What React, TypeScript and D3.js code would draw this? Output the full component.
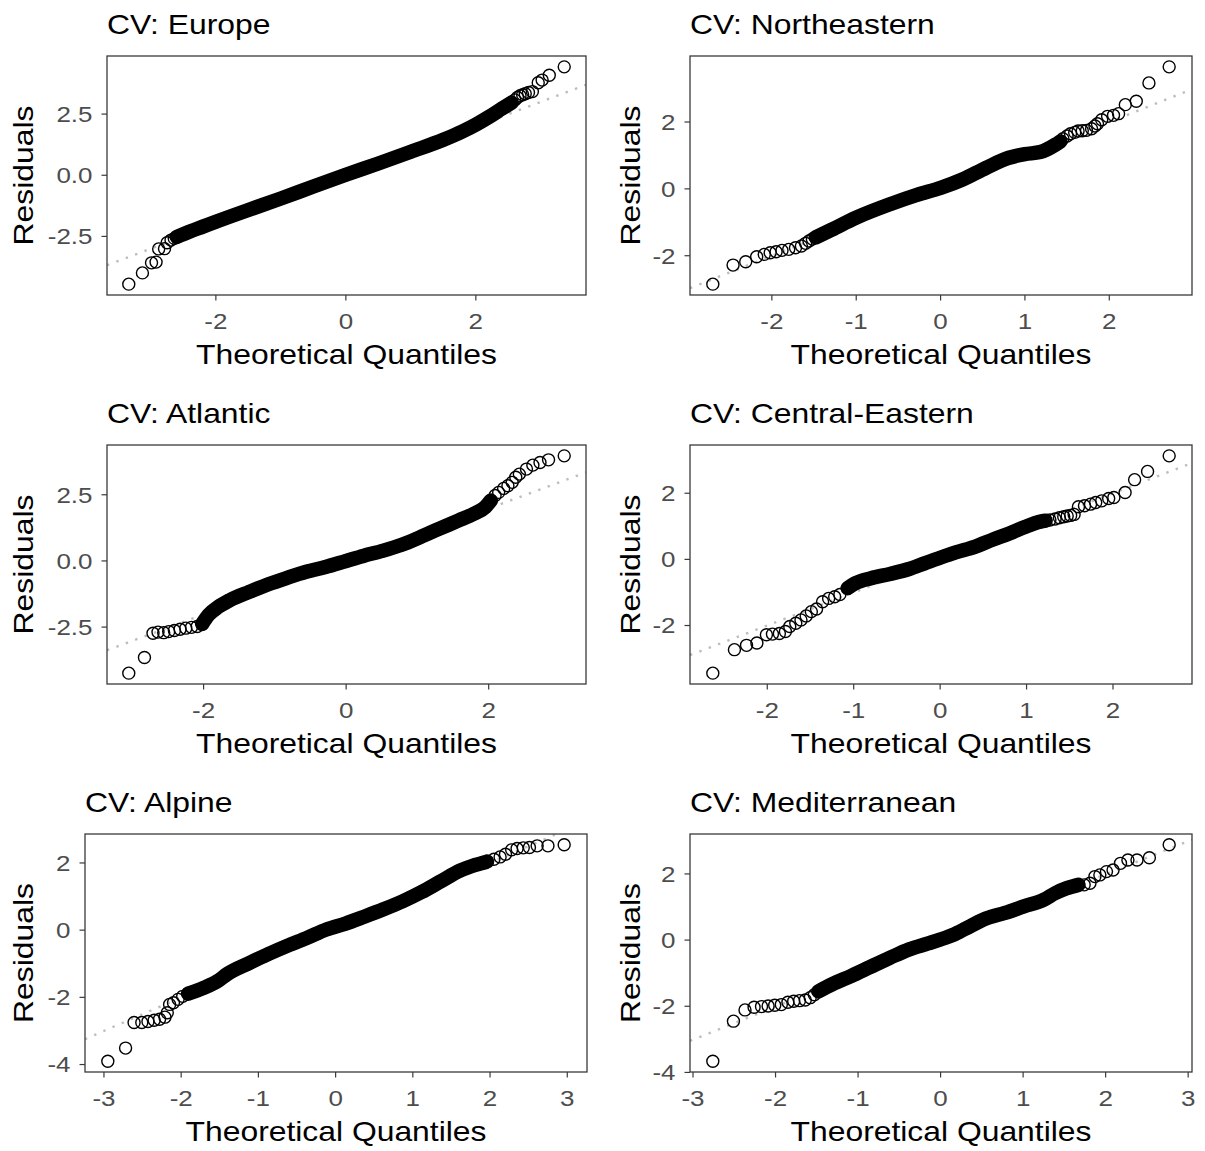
import React from "react";
import * as d3 from "d3";

type Pt = [number, number];

// ---------- DATA: [theoretical quantile, residual] ----------
const panelTitles = [
  "CV: Europe",
  "CV: Northeastern",
  "CV: Atlantic",
  "CV: Central-Eastern",
  "CV: Alpine",
  "CV: Mediterranean",
];

// Europe
const europeLow: Pt[] = [[-3.34, -4.45], [-3.13, -3.99], [-2.99, -3.58], [-2.92, -3.55], [-2.88, -3.01], [-2.79, -3.0], [-2.75, -2.76], [-2.69, -2.65], [-2.64, -2.58]];
const europeBand: Pt[] = [[-2.6, -2.52], [-2.4, -2.3], [-2.2, -2.1], [-2.0, -1.9], [-1.5, -1.42], [-1.0, -0.95], [-0.5, -0.46], [0, 0.02], [0.5, 0.48], [1.0, 0.96], [1.5, 1.45], [1.8, 1.8], [2.0, 2.07], [2.2, 2.38], [2.4, 2.72], [2.55, 2.97]];
const europeHigh: Pt[] = [[2.6, 3.08], [2.64, 3.18], [2.68, 3.25], [2.72, 3.29], [2.76, 3.33], [2.81, 3.38], [2.87, 3.42], [2.96, 3.78], [3.02, 3.89], [3.13, 4.09], [3.36, 4.43]];

// Northeastern
const northeasternLow: Pt[] = [[-2.7, -2.85], [-2.46, -2.28], [-2.31, -2.18], [-2.18, -2.03], [-2.09, -1.96], [-2.02, -1.91], [-1.95, -1.88], [-1.88, -1.84], [-1.8, -1.81], [-1.72, -1.76], [-1.65, -1.71], [-1.6, -1.63], [-1.56, -1.56], [-1.52, -1.5]];
const northeasternBand: Pt[] = [[-1.48, -1.45], [-1.29, -1.22], [-1.0, -0.86], [-0.6, -0.46], [-0.28, -0.18], [0, 0.03], [0.26, 0.28], [0.54, 0.63], [0.81, 0.93], [1.0, 1.04], [1.18, 1.1], [1.36, 1.32], [1.42, 1.42]];
const northeasternHigh: Pt[] = [[1.45, 1.5], [1.5, 1.58], [1.54, 1.65], [1.59, 1.69], [1.63, 1.73], [1.68, 1.74], [1.73, 1.75], [1.79, 1.8], [1.83, 1.88], [1.86, 1.95], [1.91, 2.07], [1.98, 2.17], [2.05, 2.2], [2.11, 2.25], [2.19, 2.52], [2.32, 2.62], [2.47, 3.17], [2.71, 3.65]];

// Atlantic
const atlanticLow: Pt[] = [[-3.05, -4.24], [-2.83, -3.65], [-2.71, -2.73], [-2.64, -2.69], [-2.56, -2.71], [-2.49, -2.67], [-2.41, -2.63], [-2.33, -2.58], [-2.25, -2.54], [-2.17, -2.51], [-2.09, -2.48]];
const atlanticBand: Pt[] = [[-2.02, -2.38], [-1.93, -2.04], [-1.79, -1.73], [-1.63, -1.48], [-1.36, -1.17], [-1.1, -0.89], [-0.83, -0.64], [-0.56, -0.41], [-0.29, -0.23], [0, 0], [0.24, 0.19], [0.51, 0.38], [0.78, 0.61], [1.04, 0.9], [1.31, 1.22], [1.58, 1.53], [1.79, 1.78], [1.95, 2.03], [2.03, 2.28]];
const atlanticHigh: Pt[] = [[2.09, 2.47], [2.14, 2.59], [2.21, 2.74], [2.27, 2.84], [2.33, 2.97], [2.38, 3.16], [2.43, 3.28], [2.53, 3.47], [2.62, 3.62], [2.72, 3.72], [2.84, 3.82], [3.06, 3.97]];

// Central-Eastern
const centralLow: Pt[] = [[-2.63, -3.44], [-2.38, -2.73], [-2.24, -2.6], [-2.12, -2.53], [-2.01, -2.28], [-1.94, -2.26], [-1.86, -2.24], [-1.79, -2.18], [-1.74, -2.03], [-1.67, -1.93], [-1.61, -1.83], [-1.55, -1.71], [-1.49, -1.58], [-1.43, -1.5], [-1.36, -1.28], [-1.29, -1.18], [-1.22, -1.13], [-1.16, -1.06]];
const centralBand: Pt[] = [[-1.07, -0.87], [-0.98, -0.72], [-0.8, -0.57], [-0.58, -0.44], [-0.36, -0.29], [-0.18, -0.12], [0, 0.05], [0.18, 0.21], [0.4, 0.38], [0.62, 0.61], [0.8, 0.78], [0.98, 0.98], [1.16, 1.14], [1.22, 1.17]];
const centralHigh: Pt[] = [[1.27, 1.19], [1.33, 1.22], [1.38, 1.26], [1.43, 1.29], [1.47, 1.31], [1.51, 1.33], [1.55, 1.36], [1.6, 1.59], [1.67, 1.62], [1.74, 1.67], [1.8, 1.72], [1.87, 1.77], [1.95, 1.84], [2.01, 1.87], [2.14, 2.02], [2.25, 2.41], [2.4, 2.66], [2.65, 3.13]];

// Alpine
const alpineLow: Pt[] = [[-2.95, -3.9], [-2.72, -3.51], [-2.61, -2.75], [-2.51, -2.75], [-2.43, -2.72], [-2.35, -2.68], [-2.28, -2.65], [-2.21, -2.59], [-2.18, -2.46], [-2.15, -2.21], [-2.1, -2.16], [-2.04, -2.06], [-1.98, -1.97]];
const alpineBand: Pt[] = [[-1.91, -1.89], [-1.71, -1.72], [-1.53, -1.52], [-1.4, -1.3], [-1.11, -0.97], [-0.87, -0.71], [-0.62, -0.46], [-0.37, -0.23], [-0.12, 0.02], [0.12, 0.19], [0.37, 0.4], [0.62, 0.62], [0.87, 0.86], [1.11, 1.13], [1.36, 1.45], [1.61, 1.77], [1.81, 1.94], [1.96, 2.04]];
const alpineHigh: Pt[] = [[2.05, 2.11], [2.13, 2.18], [2.2, 2.26], [2.28, 2.39], [2.35, 2.43], [2.43, 2.45], [2.51, 2.46], [2.61, 2.51], [2.75, 2.51], [2.96, 2.54]];

// Mediterranean
const mediterraneanLow: Pt[] = [[-2.76, -3.66], [-2.51, -2.45], [-2.37, -2.11], [-2.26, -2.03], [-2.17, -2.01], [-2.09, -1.99], [-2.01, -1.97], [-1.93, -1.95], [-1.85, -1.88], [-1.78, -1.85], [-1.71, -1.83], [-1.64, -1.81], [-1.58, -1.74], [-1.53, -1.65]];
const mediterraneanBand: Pt[] = [[-1.48, -1.55], [-1.31, -1.33], [-1.08, -1.08], [-0.85, -0.81], [-0.61, -0.53], [-0.38, -0.28], [-0.15, -0.1], [0, 0.02], [0.18, 0.19], [0.36, 0.42], [0.55, 0.65], [0.78, 0.82], [1.01, 1.02], [1.25, 1.22], [1.39, 1.42], [1.53, 1.57], [1.67, 1.67]];
const mediterraneanHigh: Pt[] = [[1.74, 1.67], [1.81, 1.72], [1.87, 1.92], [1.93, 1.97], [2.01, 2.07], [2.09, 2.12], [2.18, 2.32], [2.27, 2.42], [2.38, 2.42], [2.53, 2.49], [2.77, 2.88]];

// reference (qq) lines
const refIntercepts = [0.0, 0.0, -0.02, 0.0, 0.0, -0.01];
const refSlopes = [1.0, 1.0, 1.0, 1.0, 1.0, 1.0];

// tick values
const xTicksWide = [-2, 0, 2];
const xTicksMid = [-2, -1, 0, 1, 2];
const xTicksFull = [-3, -2, -1, 0, 1, 2, 3];
const yTicksDecimal = [-2.5, 0, 2.5];
const yTicksPair = [-2, 0, 2];
const yTicksLong = [-4, -2, 0, 2];

// ---------- LAYOUT ----------
const layout = [
  { left: 107, right: 586, top: 56, bottom: 295, labelX: 33 },
  { left: 690, right: 1192, top: 56, bottom: 295, labelX: 640 },
  { left: 107, right: 586, top: 445, bottom: 684, labelX: 33 },
  { left: 690, right: 1192, top: 445, bottom: 684, labelX: 640 },
  { left: 85, right: 587, top: 834, bottom: 1072, labelX: 33 },
  { left: 690, right: 1192, top: 834, bottom: 1072, labelX: 640 },
];

const panels = [
  { low: europeLow, band: europeBand, high: europeHigh, xt: xTicksWide, yt: yTicksDecimal, dec: true },
  { low: northeasternLow, band: northeasternBand, high: northeasternHigh, xt: xTicksMid, yt: yTicksPair, dec: false },
  { low: atlanticLow, band: atlanticBand, high: atlanticHigh, xt: xTicksWide, yt: yTicksDecimal, dec: true },
  { low: centralLow, band: centralBand, high: centralHigh, xt: xTicksMid, yt: yTicksPair, dec: false },
  { low: alpineLow, band: alpineBand, high: alpineHigh, xt: xTicksFull, yt: yTicksLong, dec: false },
  { low: mediterraneanLow, band: mediterraneanBand, high: mediterraneanHigh, xt: xTicksFull, yt: yTicksLong, dec: false },
];

const FONT = "'Liberation Sans', Arial, Helvetica, sans-serif";
const SX = 1.18; // horizontal glyph stretch
const TITLE_SIZE = 27;
const TICK_SIZE = 22;
const TICK_COLOR = "#4D4D4D";
const R = 6;

function expand(ext: [number, number]): [number, number] {
  const d = (ext[1] - ext[0]) * 0.05;
  return [ext[0] - d, ext[1] + d];
}

function fmt(v: number, dec: boolean) {
  const s = dec ? v.toFixed(1) : String(v);
  return s.replace("\u2212", "-");
}

function Panel({ idx }: { idx: number }) {
  const p = panels[idx];
  const L = layout[idx];
  const all = [...p.low, ...p.band, ...p.high];
  const xDom = expand(d3.extent(all, (d) => d[0]) as [number, number]);
  const yDom = expand(d3.extent(all, (d) => d[1]) as [number, number]);
  const x = d3.scaleLinear().domain(xDom).range([L.left, L.right]);
  const y = d3.scaleLinear().domain(yDom).range([L.bottom, L.top]);
  const line = d3
    .line<Pt>()
    .x((d) => x(d[0]))
    .y((d) => y(d[1]))
    .curve(d3.curveMonotoneX);
  const a = refIntercepts[idx];
  const b = refSlopes[idx];
  const refPts: Pt[] = [
    [xDom[0], a + b * xDom[0]],
    [xDom[1], a + b * xDom[1]],
  ];
  const refLine = d3
    .line<Pt>()
    .x((d) => x(d[0]))
    .y((d) => y(d[1]));
  const clipId = `clip-${idx}`;
  const cx = (L.left + L.right) / 2;
  const cy = (L.top + L.bottom) / 2;
  const pts = [...p.low, ...p.band, ...p.high];

  return (
    <g>
      <defs>
        <clipPath id={clipId}>
          <rect x={L.left} y={L.top} width={L.right - L.left} height={L.bottom - L.top} />
        </clipPath>
      </defs>
      {/* title */}
      <g transform={`translate(${L.left},${L.top - 22}) scale(${SX},1)`}>
        <text x={0} y={0} fontSize={TITLE_SIZE} fill="#000">
          {panelTitles[idx]}
        </text>
      </g>
      {/* reference line */}
      <g clipPath={`url(#${clipId})`}>
        <path
          d={refLine(refPts) || ""}
          fill="none"
          stroke="#BDBDBD"
          strokeWidth={2.4}
          strokeDasharray="2.4 7.6"
        />
        {/* dense band */}
        <path
          d={line(p.band) || ""}
          fill="none"
          stroke="#000"
          strokeWidth={14.5}
          strokeLinecap="round"
          strokeLinejoin="round"
        />
        {pts.map((d, i) => (
          <circle key={i} cx={x(d[0])} cy={y(d[1])} r={R} fill="none" stroke="#000" strokeWidth={1.4} />
        ))}
      </g>
      {/* frame */}
      <rect
        x={L.left}
        y={L.top}
        width={L.right - L.left}
        height={L.bottom - L.top}
        fill="none"
        stroke="#3A3A3A"
        strokeWidth={1.3}
      />
      {/* x axis */}
      {p.xt.map((t) => (
        <g key={`x${t}`}>
          <line x1={x(t)} x2={x(t)} y1={L.bottom} y2={L.bottom + 5.5} stroke="#3A3A3A" strokeWidth={1.2} />
          <g transform={`translate(${x(t)},${L.bottom + 34}) scale(${SX},1)`}>
            <text x={0} y={0} textAnchor="middle" fontSize={TICK_SIZE} fill={TICK_COLOR}>
              {fmt(t, false)}
            </text>
          </g>
        </g>
      ))}
      {/* y axis */}
      {p.yt.map((t) => (
        <g key={`y${t}`}>
          <line x1={L.left - 5.5} x2={L.left} y1={y(t)} y2={y(t)} stroke="#3A3A3A" strokeWidth={1.2} />
          <g transform={`translate(${L.left - 14.5},${y(t) + TICK_SIZE * 0.36}) scale(${SX},1)`}>
            <text x={0} y={0} textAnchor="end" fontSize={TICK_SIZE} fill={TICK_COLOR}>
              {fmt(t, p.dec)}
            </text>
          </g>
        </g>
      ))}
      {/* axis titles */}
      <g transform={`translate(${cx},${L.bottom + 68.5}) scale(${SX},1)`}>
        <text x={0} y={0} textAnchor="middle" fontSize={TITLE_SIZE} fill="#000">
          Theoretical Quantiles
        </text>
      </g>
      <g transform={`translate(${L.labelX},${cy}) rotate(-90) scale(${SX},1)`}>
        <text x={0} y={0} textAnchor="middle" fontSize={TITLE_SIZE} fill="#000">
          Residuals
        </text>
      </g>
    </g>
  );
}

export default function App() {
  return (
    <div style={{ position: "absolute", left: 0, top: 0 }}>
      <svg
        width={1205}
        height={1151}
        viewBox="0 0 1205 1151"
        style={{ display: "block", background: "#fff" }}
        fontFamily={FONT}
      >
        <rect x={0} y={0} width={1205} height={1151} fill="#fff" />
        {panels.map((_, i) => (
          <Panel key={i} idx={i} />
        ))}
      </svg>
    </div>
  );
}
